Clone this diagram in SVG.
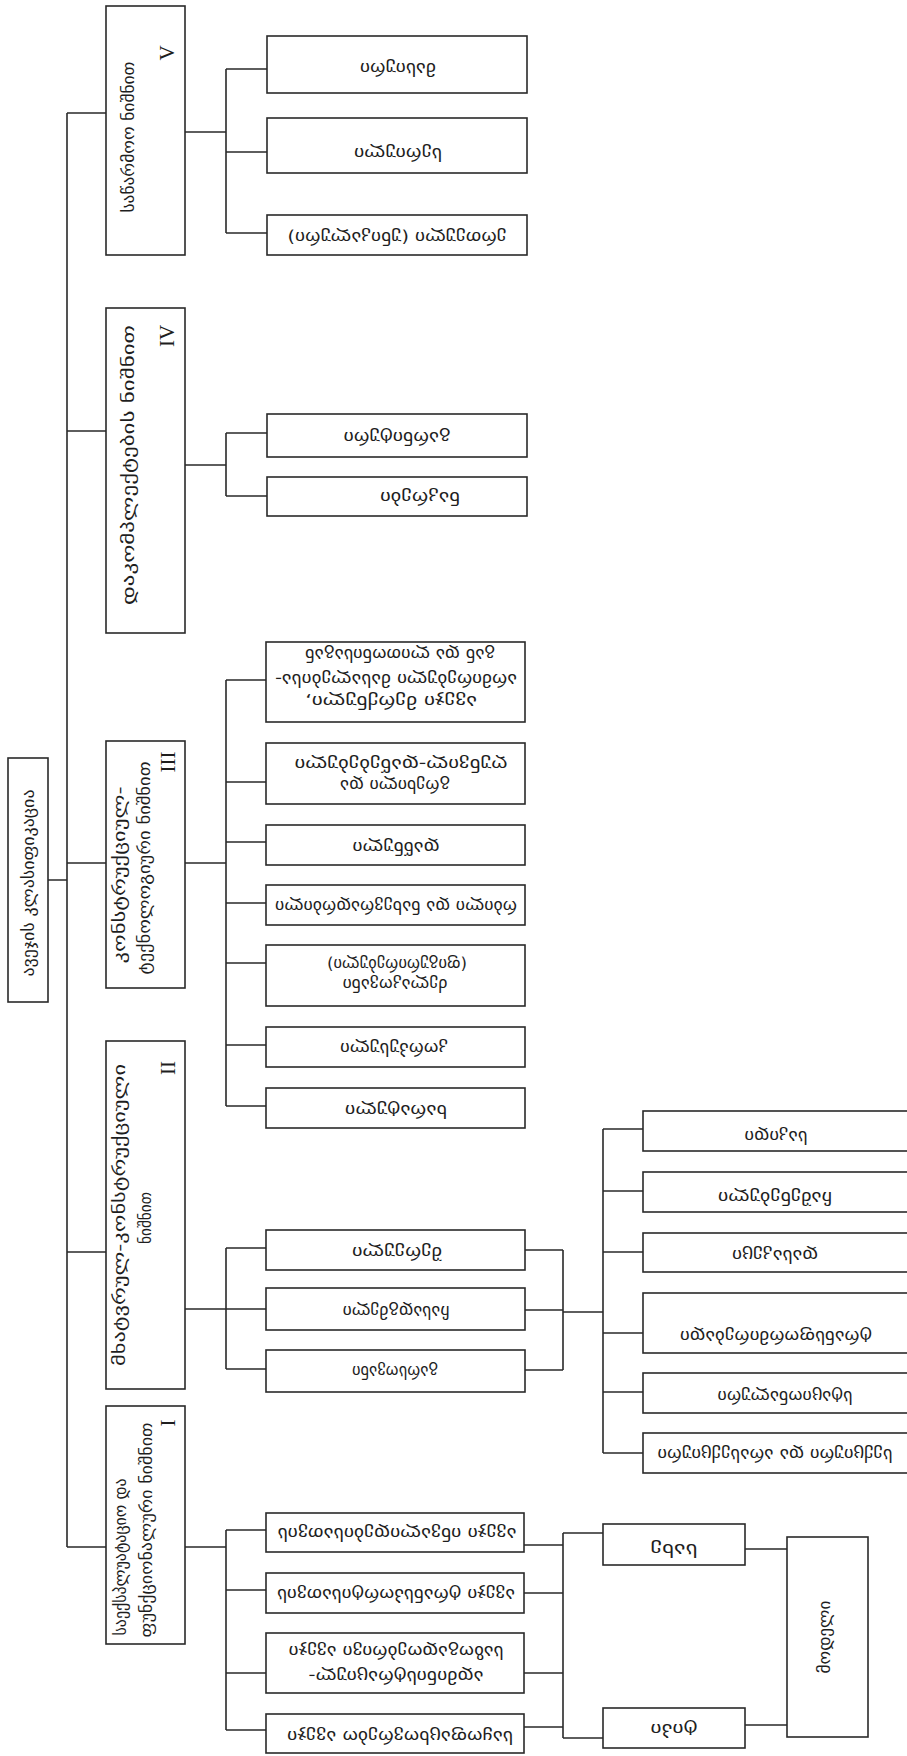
<svg xmlns="http://www.w3.org/2000/svg" width="907" height="1756" viewBox="0 0 907 1756">
<style>
  .box { fill: none; stroke: #2a2a2a; stroke-width: 1.6; }
  .ln { fill: none; stroke: #2a2a2a; stroke-width: 1.6; }
  .t { font-family: "DejaVu Sans", "Noto Sans", sans-serif; font-size: 16px; fill: #1e1e1e; text-anchor: middle; }
  .lf { font-family: "DejaVu Sans", "Noto Sans", sans-serif; font-size: 16px; fill: #1e1e1e; text-anchor: middle; }
  .num { font-family: "Liberation Serif", serif; font-size: 21px; fill: #1e1e1e; text-anchor: middle; }
</style>
<rect width="907" height="1756" fill="#ffffff"/>

<!-- connectors -->
<g id="connectors" class="ln">
  <path d="M48 880 H67 M67 113 V1547"/>
  <path d="M67 113 H106 M67 431 H106 M67 863 H106 M67 1252 H106 M67 1547 H106"/>
  <!-- V -->
  <path d="M185 132 H226 M226 69 V233 M226 69 H267 M226 152 H267 M226 233 H267"/>
  <!-- IV -->
  <path d="M185 465 H226 M226 433 V496 M226 433 H267 M226 496 H267"/>
  <!-- III -->
  <path d="M185 863 H226 M226 680 V1106 M226 680 H266 M226 782 H266 M226 842 H266 M226 903 H266 M226 963 H266 M226 1045 H266 M226 1106 H266"/>
  <!-- II -->
  <path d="M185 1309 H226 M226 1248 V1369 M226 1248 H266 M226 1309 H266 M226 1369 H266"/>
  <path d="M525 1250 H563 M525 1310 H563 M525 1370 H563 M563 1250 V1370 M563 1312 H603"/>
  <path d="M603 1129 V1453 M603 1129 H643 M603 1191 H643 M603 1252 H643 M603 1333 H643 M603 1392 H643 M603 1453 H643"/>
  <!-- I -->
  <path d="M185 1547 H226 M226 1530 V1730 M226 1530 H266 M226 1590 H266 M226 1673 H266 M226 1730 H266"/>
  <path d="M524 1545 H563 M524 1593 H563 M524 1673 H563 M524 1727 H563 M563 1533 V1738 M563 1533 H603 M563 1738 H603"/>
  <path d="M745 1549 H787 M745 1725 H787"/>
</g>

<!-- root -->
<g id="root">
  <rect class="box" x="8" y="758" width="40" height="244"/>
  <text class="t" transform="translate(29 883) rotate(-90)" y="5" textLength="187" lengthAdjust="spacingAndGlyphs">ავეჯის კლასიფიკაცია</text>
</g>

<!-- category headers -->
<g id="cat-5">
  <rect class="box" x="106" y="6" width="79" height="249"/>
  <text class="t" transform="translate(129 137) rotate(-90)" y="5" textLength="151" lengthAdjust="spacingAndGlyphs">საწარმოო ნიშნით</text>
  <text class="num" transform="translate(167 53) rotate(-90)" y="7">V</text>
</g>
<g id="cat-4">
  <rect class="box" x="106" y="308" width="79" height="325"/>
  <text class="t" transform="translate(129 465) rotate(-90)" y="5" textLength="280" lengthAdjust="spacingAndGlyphs">დაკომპლექტების ნიშნით</text>
  <text class="num" transform="translate(167 336) rotate(-90)" y="7">IV</text>
</g>
<g id="cat-3">
  <rect class="box" x="106" y="741" width="79" height="247"/>
  <text class="t" transform="translate(120 875) rotate(-90)" y="5" textLength="177" lengthAdjust="spacingAndGlyphs">კონსტრუქციულ-</text>
  <text class="t" transform="translate(145 868) rotate(-90)" y="5" textLength="213" lengthAdjust="spacingAndGlyphs">ტექნოლოგიური ნიშნით</text>
  <text class="num" transform="translate(168 762) rotate(-90)" y="7">III</text>
</g>
<g id="cat-2">
  <rect class="box" x="106" y="1041" width="79" height="348"/>
  <text class="t" transform="translate(120 1215) rotate(-90)" y="5" textLength="302" lengthAdjust="spacingAndGlyphs">მხატვრულ-კონსტრუქციული</text>
  <text class="t" transform="translate(146 1218) rotate(-90)" y="5" textLength="52" lengthAdjust="spacingAndGlyphs">ნიშნით</text>
  <text class="num" transform="translate(168 1068) rotate(-90)" y="7">II</text>
</g>
<g id="cat-1">
  <rect class="box" x="106" y="1406" width="79" height="238"/>
  <text class="t" transform="translate(121 1557) rotate(-90)" y="5" textLength="157" lengthAdjust="spacingAndGlyphs">საექსპლუატაციო და</text>
  <text class="t" transform="translate(147 1530) rotate(-90)" y="5" textLength="215" lengthAdjust="spacingAndGlyphs">ფუნქციონალური ნიშნით</text>
  <text class="num" transform="translate(168 1423) rotate(-90)" y="7">I</text>
</g>

<!-- V leaves -->
<g id="v-1"><rect class="box" x="267" y="36" width="260" height="57"/>
  <text class="lf" transform="rotate(180 398 67)" x="398" y="71" textLength="76" lengthAdjust="spacingAndGlyphs">მასიური</text></g>
<g id="v-2"><rect class="box" x="267" y="118" width="260" height="55"/>
  <text class="lf" transform="rotate(180 398 152)" x="398" y="156" textLength="88" lengthAdjust="spacingAndGlyphs">სერიული</text></g>
<g id="v-3"><rect class="box" x="267" y="215" width="260" height="40"/>
  <text class="lf" transform="rotate(180 397 236)" x="397" y="240" textLength="219" lengthAdjust="spacingAndGlyphs">ერთეული (უნიკალური)</text></g>

<!-- IV leaves -->
<g id="iv-1"><rect class="box" x="267" y="414" width="260" height="43"/>
  <text class="lf" transform="rotate(180 397 436)" x="397" y="440" textLength="107" lengthAdjust="spacingAndGlyphs">გარნიტური</text></g>
<g id="iv-2"><rect class="box" x="267" y="477" width="260" height="39"/>
  <text class="lf" transform="rotate(180 420 496)" x="420" y="500" textLength="80" lengthAdjust="spacingAndGlyphs">ნაკრები</text></g>

<!-- III leaves -->
<g id="iii-1"><rect class="box" x="266" y="642" width="259" height="80"/>
  <text class="lf" transform="rotate(180 391 700)" x="391" y="704" textLength="172" lengthAdjust="spacingAndGlyphs">ავეჯი მერქნული,</text>
  <text class="lf" transform="rotate(180 396 678)" x="396" y="682" textLength="242" lengthAdjust="spacingAndGlyphs">არმირებული მასალებისა-</text>
  <text class="lf" transform="rotate(180 400 653)" x="400" y="657" textLength="190" lengthAdjust="spacingAndGlyphs">გან და ლითონისაგან</text></g>
<g id="iii-2"><rect class="box" x="266" y="743" width="259" height="61"/>
  <text class="lf" transform="rotate(180 395 784)" x="395" y="788" textLength="110" lengthAdjust="spacingAndGlyphs">გრეხილი და</text>
  <text class="lf" transform="rotate(180 401 763)" x="401" y="767" textLength="213" lengthAdjust="spacingAndGlyphs">ღუნვილ-დაწებებული</text></g>
<g id="iii-3"><rect class="box" x="266" y="825" width="259" height="40"/>
  <text class="lf" transform="rotate(180 396 846)" x="396" y="850" textLength="87" lengthAdjust="spacingAndGlyphs">დაწნული</text></g>
<g id="iii-4"><rect class="box" x="266" y="885" width="259" height="40"/>
  <text class="lf" transform="rotate(180 396 905)" x="396" y="909" textLength="242" lengthAdjust="spacingAndGlyphs">რბილი და ნახევრადრბილი</text></g>
<g id="iii-5"><rect class="box" x="266" y="945" width="259" height="61"/>
  <text class="lf" transform="rotate(180 395 983)" x="395" y="987" textLength="105" lengthAdjust="spacingAndGlyphs">ძელაკოვანი</text>
  <text class="lf" transform="rotate(180 397 963)" x="397" y="967" textLength="140" lengthAdjust="spacingAndGlyphs">(ფიგურირებული)</text></g>
<g id="iii-6"><rect class="box" x="266" y="1027" width="259" height="40"/>
  <text class="lf" transform="rotate(180 394 1047)" x="394" y="1051" textLength="108" lengthAdjust="spacingAndGlyphs">კორპუსული</text></g>
<g id="iii-7"><rect class="box" x="266" y="1088" width="259" height="40"/>
  <text class="lf" transform="rotate(180 396 1109)" x="396" y="1113" textLength="102" lengthAdjust="spacingAndGlyphs">ხარატული</text></g>

<!-- II leaves -->
<g id="ii-1"><rect class="box" x="266" y="1230" width="259" height="40"/>
  <text class="lf" transform="rotate(180 397 1251)" x="397" y="1255" textLength="90" lengthAdjust="spacingAndGlyphs">შერეული</text></g>
<g id="ii-2"><rect class="box" x="266" y="1288" width="259" height="42"/>
  <text class="lf" transform="rotate(180 396 1310)" x="396" y="1314" textLength="107" lengthAdjust="spacingAndGlyphs">ჩასადგმელი</text></g>
<g id="ii-3"><rect class="box" x="266" y="1350" width="259" height="42"/>
  <text class="lf" transform="rotate(180 395 1370)" x="395" y="1374" textLength="86" lengthAdjust="spacingAndGlyphs">გარსოვანი</text></g>

<!-- II sub-items -->
<g id="ii-s1"><rect class="box" x="643" y="1111" width="280" height="40"/>
  <text class="lf" transform="rotate(180 776 1135)" x="776" y="1139" textLength="63" lengthAdjust="spacingAndGlyphs">საკიდი</text></g>
<g id="ii-s2"><rect class="box" x="643" y="1172" width="280" height="40"/>
  <text class="lf" transform="rotate(180 775 1196)" x="775" y="1200" textLength="114" lengthAdjust="spacingAndGlyphs">ჩაშენებული</text></g>
<g id="ii-s3"><rect class="box" x="643" y="1233" width="280" height="39"/>
  <text class="lf" transform="rotate(180 775 1254)" x="775" y="1258" textLength="86" lengthAdjust="spacingAndGlyphs">დასაკეცი</text></g>
<g id="ii-s4"><rect class="box" x="643" y="1293" width="280" height="60"/>
  <text class="lf" transform="rotate(180 776 1335)" x="776" y="1339" textLength="192" lengthAdjust="spacingAndGlyphs">ტრანსფორმირებადი</text></g>
<g id="ii-s5"><rect class="box" x="643" y="1373" width="280" height="40"/>
  <text class="lf" transform="rotate(180 785 1395)" x="785" y="1399" textLength="135" lengthAdjust="spacingAndGlyphs">სტაციონალური</text></g>
<g id="ii-s6"><rect class="box" x="643" y="1433" width="280" height="40"/>
  <text class="lf" transform="rotate(180 775 1453)" x="775" y="1457" textLength="235" lengthAdjust="spacingAndGlyphs">სექციური და არასექციური</text></g>

<!-- I leaves -->
<g id="i-1"><rect class="box" x="266" y="1513" width="258" height="39"/>
  <text class="lf" transform="rotate(180 397 1532)" x="397" y="1536" textLength="239" lengthAdjust="spacingAndGlyphs">ავეჯი ინვალიდებისათვის</text></g>
<g id="i-2"><rect class="box" x="266" y="1573" width="258" height="40"/>
  <text class="lf" transform="rotate(180 396 1593)" x="396" y="1597" textLength="238" lengthAdjust="spacingAndGlyphs">ავეჯი ტრანსპორტისათვის</text></g>
<g id="i-3"><rect class="box" x="266" y="1633" width="258" height="60"/>
  <text class="lf" transform="rotate(180 396 1675)" x="396" y="1679" textLength="175" lengthAdjust="spacingAndGlyphs">ადმინისტრაციულ-</text>
  <text class="lf" transform="rotate(180 396 1650)" x="396" y="1654" textLength="215" lengthAdjust="spacingAndGlyphs">საზოგადოებრივი ავეჯი</text></g>
<g id="i-4"><rect class="box" x="266" y="1714" width="258" height="39"/>
  <text class="lf" transform="rotate(180 400 1735)" x="400" y="1739" textLength="226" lengthAdjust="spacingAndGlyphs">საყოფაცხოვრებო ავეჯი</text></g>

<!-- I sub-items -->
<g id="i-s1"><rect class="box" x="603" y="1524" width="142" height="41"/>
  <text class="lf" transform="rotate(180 674 1548)" x="674" y="1552" textLength="47" lengthAdjust="spacingAndGlyphs">სახე</text></g>
<g id="i-s2"><rect class="box" x="603" y="1708" width="142" height="40"/>
  <text class="lf" transform="rotate(180 674 1728)" x="674" y="1732" textLength="47" lengthAdjust="spacingAndGlyphs">ტიპი</text></g>
<g id="i-model"><rect class="box" x="787" y="1537" width="81" height="200"/>
  <text class="t" transform="translate(825 1637) rotate(-90)" y="5" textLength="73" lengthAdjust="spacingAndGlyphs">მოდელი</text></g>
</svg>
